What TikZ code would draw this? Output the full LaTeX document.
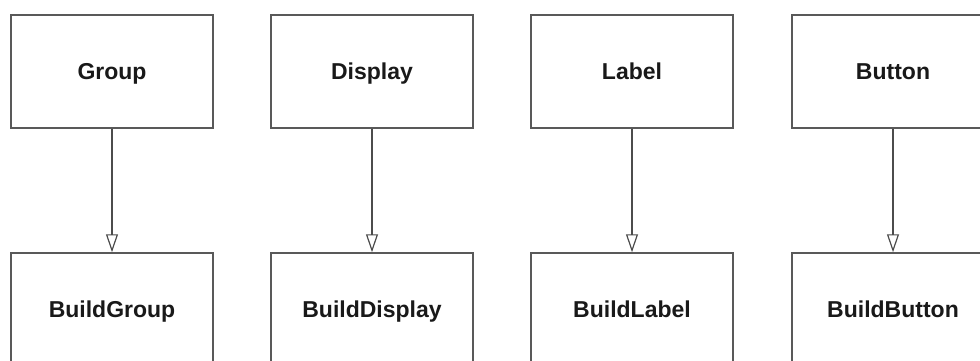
\documentclass[tikz,border=0pt]{standalone}
\usepackage{fontspec}
\setmainfont{Liberation Sans}
\usetikzlibrary{arrows.meta}
\begin{document}
\begin{tikzpicture}[x=1pt,y=-1pt,
  cls/.style={draw=black!65, line width=1.5pt, fill=white, rectangle,
    minimum width=202pt, minimum height=113pt, inner sep=0pt,
    text height=16.5pt, text depth=0pt,
    font=\fontsize{23}{26}\selectfont\bfseries, text=black!90},
  inherit/.style={draw=black!70, line width=1.3pt,
    -{Triangle[open, width=12pt, length=18pt, line width=1.2pt]}}]
\useasboundingbox (0,0) rectangle (980,360);
\clip (0,0) rectangle (980,360);
% top row: parent classes
\node[cls] (group)   at (112,71.5) {Group};
\node[cls] (display) at (372,71.5) {Display};
\node[cls] (label)   at (632,71.5) {Label};
\node[cls] (button)  at (893,71.5) {Button};
% bottom row: builders
\node[cls] (bgroup)   at (112,309.5) {BuildGroup};
\node[cls] (bdisplay) at (372,309.5) {BuildDisplay};
\node[cls] (blabel)   at (632,309.5) {BuildLabel};
\node[cls] (bbutton)  at (893,309.5) {BuildButton};
% connectors
\draw[inherit] (group)   -- (bgroup);
\draw[inherit] (display) -- (bdisplay);
\draw[inherit] (label)   -- (blabel);
\draw[inherit] (button)  -- (bbutton);
\end{tikzpicture}
\end{document}
